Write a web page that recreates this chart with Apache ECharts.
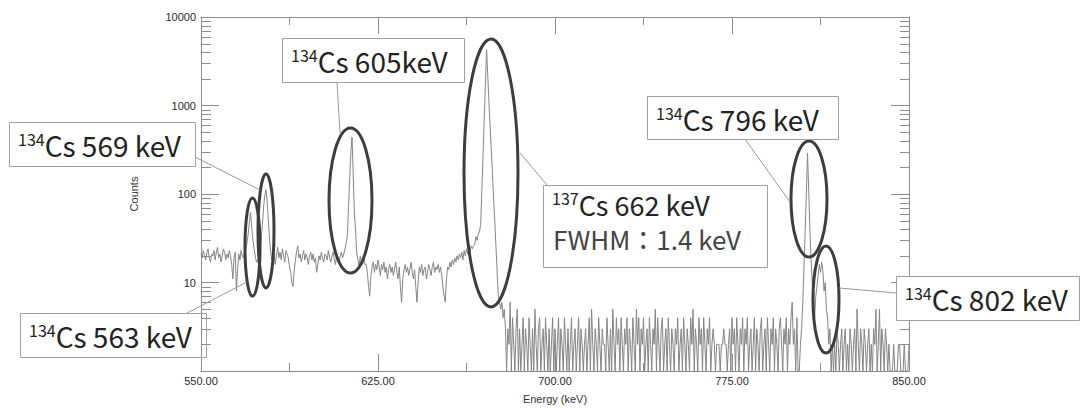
<!DOCTYPE html>
<html>
<head>
<meta charset="utf-8">
<script src="https://cdn.jsdelivr.net/npm/echarts@6.0.0/dist/echarts.min.js"></script>
<style>
  html, body { margin: 0; padding: 0; background: #fff; }
  #chart { width: 1080px; height: 409px; }
</style>
</head>
<body>
<div id="chart"></div>
<script>
  // spectrum, 0.5 keV bins starting at 550 keV
  var binStart = 550
  var binWidth = 0.5

  // 550.0 - 599.5
  var counts550 = [
    21, 19, 23, 20, 18, 22, 24, 19, 17, 21,
    20, 23, 18, 22, 25, 19, 21, 17, 20, 24,
    22, 18, 21, 19, 23, 20, 16, 11, 19, 22,
    8, 14, 21, 18, 23, 20, 19, 22, 24, 28,
    35, 48, 62, 42, 30, 24, 20, 17, 18, 16,
    22, 30, 45, 70, 95, 112, 85, 52, 32, 22,
    18, 23, 20, 16, 21, 25, 19, 22, 18, 24,
    20, 17, 23, 21, 19, 15, 13, 10, 9, 14,
    18, 22, 26, 19, 21, 17, 20, 23, 18, 21,
    19, 16, 20, 22, 18, 21, 17, 19, 13, 16
  ]
  // 600.0 - 649.5
  var counts600 = [
    20, 18, 22, 19, 17, 21, 20, 18, 23, 19,
    17, 20, 22, 18, 16, 21, 19, 17, 20, 22,
    19, 21, 24, 28, 33, 70, 150, 300, 440, 160,
    60, 39, 21, 18, 15, 20, 17, 16, 19, 16,
    16, 13, 9, 7, 12, 15, 17, 13, 16, 14,
    18, 15, 12, 16, 14, 17, 13, 15, 11, 14,
    16, 13, 15, 12, 14, 17, 13, 11, 15, 9,
    6, 11, 14, 16, 13, 15, 12, 14, 17, 13,
    11, 14, 9, 6, 10, 15, 13, 16, 12, 14,
    15, 11, 13, 16, 14, 12, 15, 17, 13, 15
  ]
  // 650.0 - 699.5
  var counts650 = [
    14, 16, 13, 15, 12, 9, 7, 6, 11, 15,
    14, 17, 15, 18, 16, 19, 17, 20, 18, 21,
    19, 22, 18, 23, 20, 24, 21, 25, 22, 26,
    24, 26, 27, 33, 30, 35, 38, 45, 110, 270,
    680, 1700, 4300, 2200, 1100, 600, 320, 170, 90, 47,
    25, 13, 7, 6, 5, 6, 4, 5, 3, 1,
    3, 2, 6, 1, 4, 2, 1, 3, 5, 1,
    3, 1, 2, 4, 1, 3, 2, 1, 4, 2,
    1, 3, 1, 5, 2, 1, 3, 4, 1, 2,
    3, 1, 4, 2, 1, 3, 1, 2, 4, 1
  ]
  // 700.0 - 749.5
  var counts700 = [
    3, 1, 2, 4, 1, 3, 2, 1, 4, 2,
    1, 3, 1, 2, 4, 1, 2, 3, 1, 2,
    4, 1, 3, 2, 1, 2, 3, 1, 2, 4,
    1, 5, 2, 1, 3, 2, 1, 4, 2, 1,
    3, 2, 2, 1, 4, 2, 1, 3, 1, 5,
    2, 1, 4, 2, 3, 1, 4, 2, 1, 3,
    2, 4, 1, 3, 2, 1, 4, 2, 1, 5,
    2, 4, 1, 3, 2, 4, 1, 2, 3, 1,
    4, 2, 1, 3, 2, 5, 1, 4, 2, 1,
    3, 4, 1, 2, 3, 1, 4, 2, 1, 3
  ]
  // 750.0 - 799.5
  var counts750 = [
    2, 1, 3, 2, 4, 1, 2, 3, 1, 4,
    2, 1, 3, 2, 1, 4, 2, 5, 1, 3,
    2, 1, 4, 2, 3, 1, 4, 2, 1, 3,
    2, 4, 1, 2, 3, 2, 1, 2, 2, 2,
    1, 2, 2, 3, 2, 2, 1, 2, 3, 1,
    4, 2, 3, 1, 4, 2, 1, 3, 2, 4,
    1, 3, 2, 4, 1, 2, 3, 1, 2, 4,
    1, 3, 2, 1, 3, 4, 1, 2, 3, 1,
    4, 2, 1, 3, 2, 4, 1, 3, 2, 1,
    3, 4, 2, 1, 3, 2, 4, 1, 3, 2
  ]
  // 800.0 - 850.0
  var counts800 = [
    4, 6, 2, 3, 1, 4, 1, 1, 2, 3,
    6, 15, 38, 100, 290, 110, 40, 18, 10, 6,
    4, 7, 9, 12, 16, 13, 17, 14, 8, 10,
    5, 4, 2, 3, 1, 2, 1, 2, 1, 3,
    2, 1, 2, 3, 1, 2, 3, 1, 2, 1,
    3, 2, 1, 2, 3, 1, 5, 2, 1, 3,
    2, 1, 3, 2, 1, 2, 3, 1, 2, 1,
    3, 2, 5, 1, 2, 5, 1, 3, 2, 1,
    3, 2, 1, 2, 1, 1, 1, 2, 1, 1,
    1, 2, 2, 1, 1, 1, 2, 1, 1, 1,
    2
  ]

  var countTicks = [1, 10, 100, 1000, 10000]
  var countMinorTicks = [
    2, 3, 4, 5, 6, 7, 8, 9,
    20, 30, 40, 50, 60, 70, 80, 90,
    200, 300, 400, 500, 600, 700, 800, 900,
    2000, 3000, 4000, 5000, 6000, 7000, 8000, 9000
  ]

  // callouts: superscript, text, box [x, y, w, h]
  var callouts = [
    { sup: '134', text: 'Cs 569 keV', box: [9, 122, 186, 44] },
    { sup: '134', text: 'Cs 563 keV', box: [20, 313, 186, 44] },
    { sup: '134', text: 'Cs 605keV', box: [282, 38, 182, 44] },
    { sup: '137', text: 'Cs 662 keV', line2: 'FWHM：1.4 keV', box: [543, 185, 224, 82] },
    { sup: '134', text: 'Cs 796 keV', box: [647, 96, 191, 43] },
    { sup: '134', text: 'Cs 802 keV', box: [896, 276, 183, 44] }
  ]
  var rings = [
    [252.5, 247, 7.5, 49],
    [266, 231, 8, 57],
    [350.5, 200.5, 21.5, 72.5],
    [491, 173, 27, 134],
    [809, 199, 18, 58],
    [826, 299.5, 13, 53.5]
  ]
  var leaders = [
    [195, 157, 260, 190],
    [187, 313, 247, 282],
    [337, 82, 340, 133],
    [520, 153, 547, 185],
    [745, 139, 790, 202],
    [839, 288, 896, 293]
  ]

  var counts = counts550.concat(counts600, counts650, counts700, counts750, counts800)
  var spectrum = counts.map(function (c, i) {
    return [binStart + i * binWidth, c]
  })

  // svg renderer: the canvas one dropped the axis ticks here
  var myChart = echarts.init(document.getElementById('chart'), null, { renderer: 'svg' })

  var axisGray = '#8c8c8c'
  var labelFont = { fontFamily: 'Liberation Sans, Arial, sans-serif', fontSize: 11, color: '#333' }
  var calloutFont = 'Noto Sans CJK JP'

  function xAxisCfg(pos, showLabel) {
    return {
      type: 'value',
      position: pos,
      min: 550,
      max: 850,
      interval: 75,
      name: showLabel ? 'Energy (keV)' : '',
      nameLocation: 'middle',
      nameGap: 22,
      nameTextStyle: labelFont,
      axisLine: { show: true, onZero: false, lineStyle: { color: axisGray, width: 1 } },
      axisTick: { show: true, inside: true, length: 17, lineStyle: { color: axisGray } },
      minorTick: { show: true, splitNumber: 2, length: 8, lineStyle: { color: axisGray } },
      axisLabel: {
        show: showLabel,
        margin: 4,
        fontSize: 11,
        color: '#2a2a2a',
        formatter: function (v) { return v.toFixed(2) }
      },
      splitLine: { show: false }
    }
  }

  function yAxisCfg(pos, showLabel) {
    return {
      type: 'log',
      logBase: 10,
      position: pos,
      min: 1,
      max: 10000,
      name: showLabel ? 'Counts' : '',
      nameLocation: 'middle',
      nameGap: 62,
      nameTextStyle: labelFont,
      axisLine: { show: true, lineStyle: { color: axisGray, width: 1 } },
      axisTick: { show: true, inside: true, length: 18, lineStyle: { color: axisGray } },
      axisLabel: {
        show: showLabel,
        margin: 5,
        fontSize: 11,
        color: '#2a2a2a',
        formatter: function (v) {
          var r = Math.round(v)
          return countTicks.indexOf(r) > 0 ? String(r) : ''
        }
      },
      splitLine: { show: false }
    }
  }

  var graphics = []
  rings.forEach(function (r) {
    graphics.push({
      type: 'ellipse',
      z: 100,
      shape: { cx: r[0], cy: r[1], rx: r[2], ry: r[3] },
      style: { fill: null, stroke: '#3d3d3d', lineWidth: 3 }
    })
  })
  leaders.forEach(function (l) {
    graphics.push({
      type: 'line',
      z: 100,
      shape: { x1: l[0], y1: l[1], x2: l[2], y2: l[3] },
      style: { stroke: '#9a9a9a', lineWidth: 1 }
    })
  })
  callouts.forEach(function (c, i) {
    var b = c.box
    graphics.push({
      type: 'rect',
      z: 101,
      shape: { x: b[0] + 0.5, y: b[1] + 0.5, width: b[2], height: b[3] },
      style: { fill: i === 1 ? 'rgba(255,255,255,0)' : '#fff', stroke: '#a0a0a0', lineWidth: 1 }
    })
    var firstY = c.line2 ? b[1] + 19 : b[1] + b[3] / 2 + 1
    graphics.push({
      type: 'text',
      z: 102,
      x: b[0] + 9,
      y: firstY,
      style: {
        text: '{sup|' + c.sup + '}{main|' + c.text + '}',
        verticalAlign: 'middle',
        align: 'left',
        fontFamily: calloutFont,
        rich: {
          sup: { fontSize: 16, lineHeight: 16, verticalAlign: 'top', fill: '#222', fontFamily: calloutFont },
          main: { fontSize: c.line2 ? 27 : 28, lineHeight: 28, fill: '#222', fontFamily: calloutFont }
        }
      }
    })
    if (c.line2) {
      graphics.push({
        type: 'text',
        z: 102,
        x: b[0] + 10,
        y: b[1] + 53,
        style: {
          text: c.line2,
          verticalAlign: 'middle',
          align: 'left',
          fontFamily: calloutFont,
          fontSize: 26,
          fill: '#444'
        }
      })
    }
  })

  var option = {
    animation: false,
    grid: { left: 201, right: 171, top: 17, bottom: 34 },
    xAxis: [xAxisCfg('bottom', true), xAxisCfg('top', false)],
    yAxis: [yAxisCfg('left', true), yAxisCfg('right', false)],
    series: [
      {
        name: 'spectrum',
        type: 'line',
        data: spectrum,
        showSymbol: false,
        lineStyle: { color: '#858585', width: 1 }
      },
      {
        // log minor ticks (2..9 per decade) on left and right edges
        name: 'minorTicks',
        type: 'custom',
        silent: true,
        data: countMinorTicks.map(function (v) { return [550, v] }),
        encode: { x: 0, y: 1 },
        renderItem: function (params, api) {
          var p = api.coord([api.value(0), api.value(1)])
          var cs = params.coordSys
          var y = Math.round(p[1]) + 0.5
          return {
            type: 'group',
            children: [
              { type: 'line', shape: { x1: cs.x, y1: y, x2: cs.x + 10, y2: y }, style: { stroke: axisGray, lineWidth: 1 } },
              { type: 'line', shape: { x1: cs.x + cs.width - 9, y1: y, x2: cs.x + cs.width, y2: y }, style: { stroke: axisGray, lineWidth: 1 } }
            ]
          }
        }
      }
    ],
    graphic: graphics
  }
  myChart.setOption(option)
</script>
</body>
</html>
